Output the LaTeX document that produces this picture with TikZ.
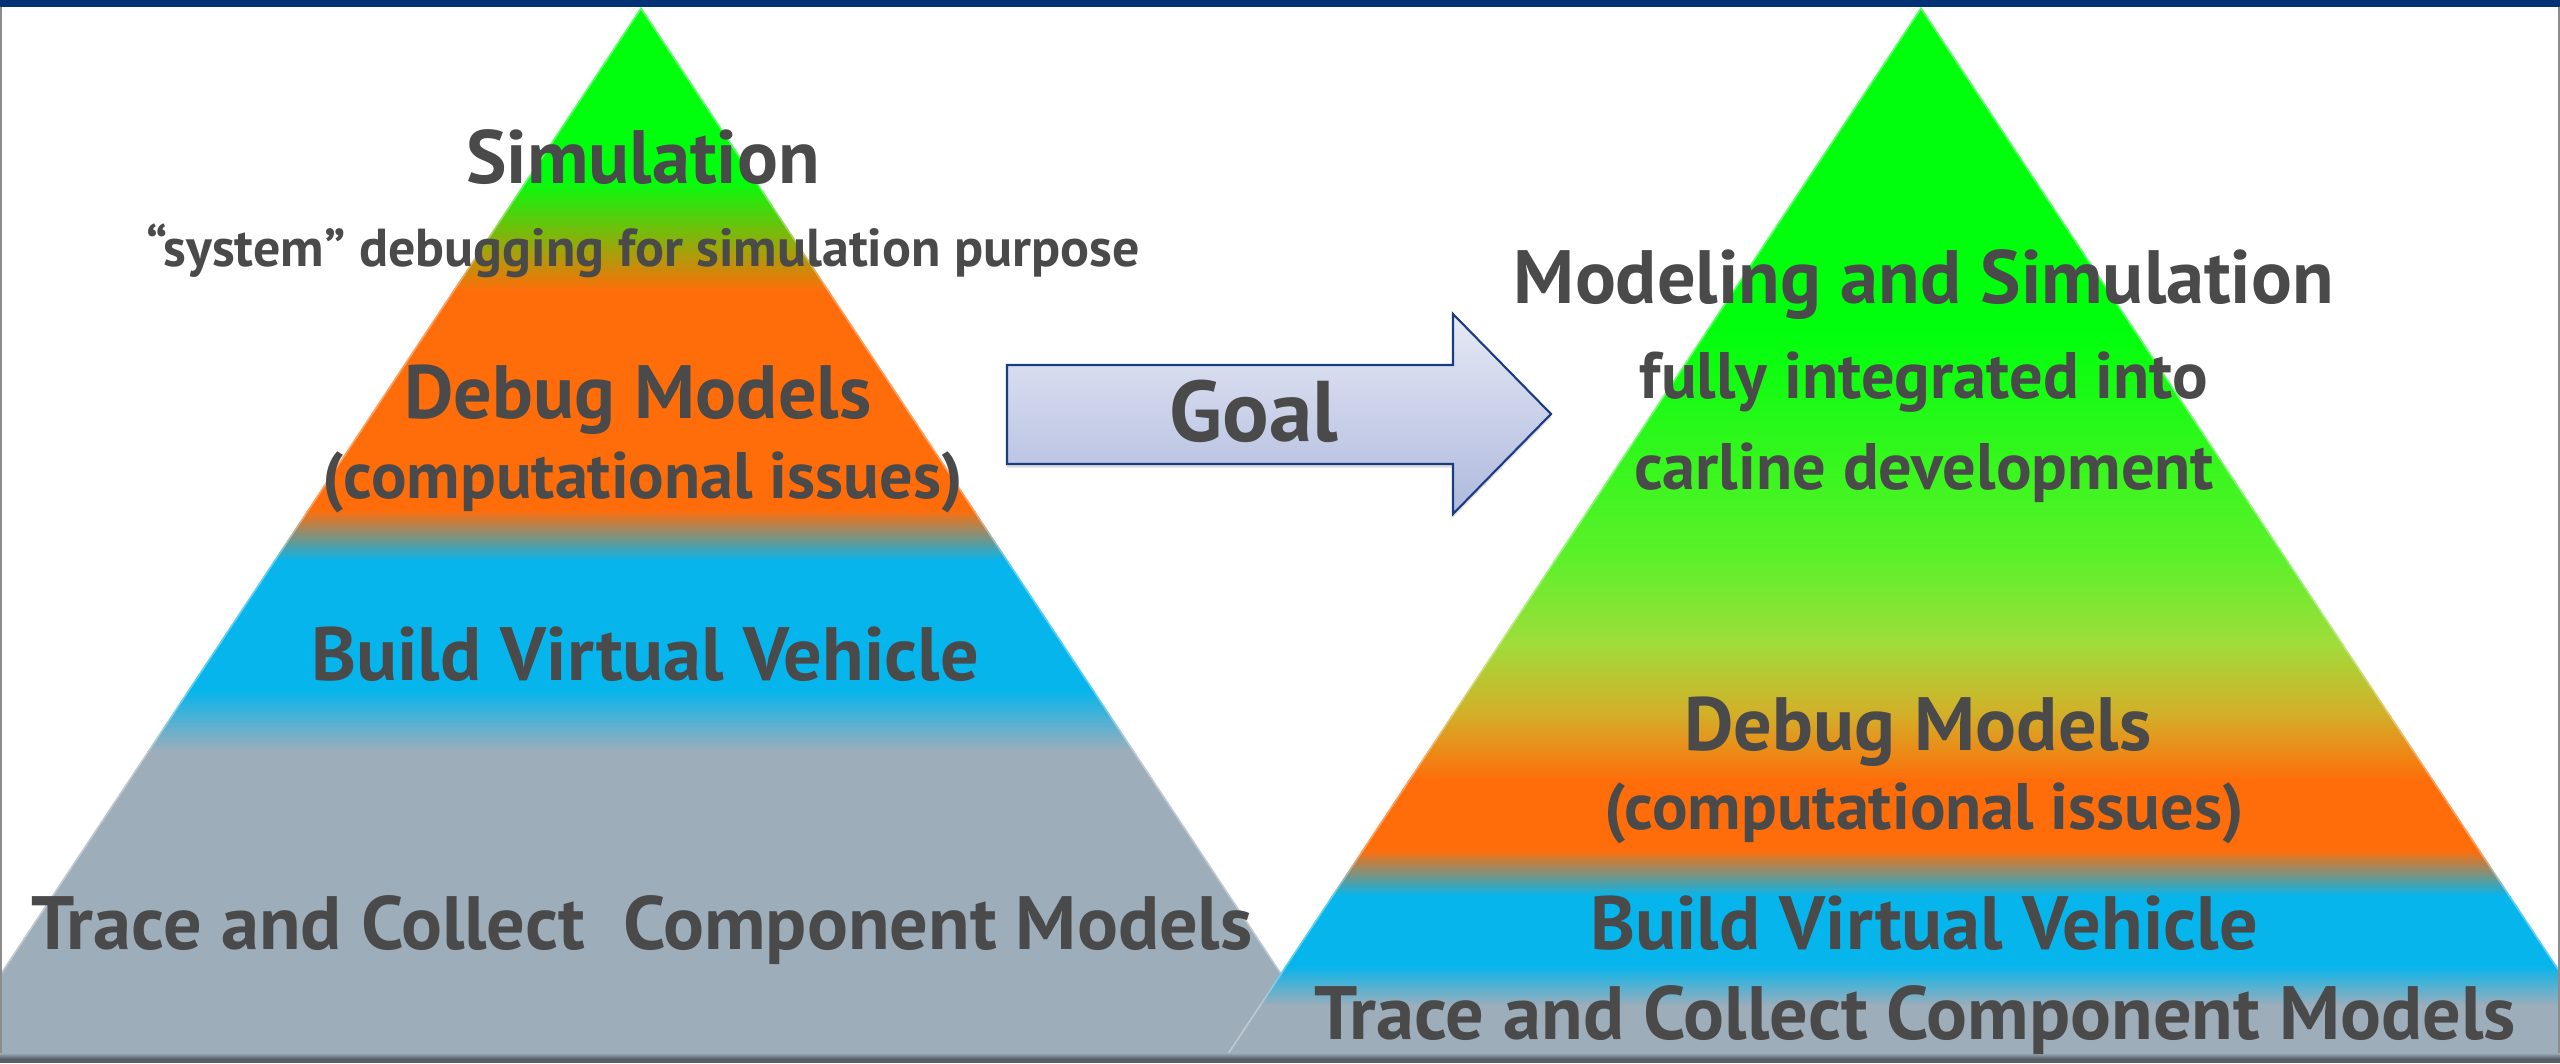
\documentclass[tikz,border=0pt]{standalone}
\usepackage{fontspec}
\setmainfont{PT Sans}[FakeStretch=1.01]
\usetikzlibrary{shadows}

\definecolor{barblue}{HTML}{003275}
\definecolor{grn}{HTML}{00FF0C}
\definecolor{lime}{HTML}{5EF02A}
\definecolor{ylgrn}{HTML}{A0DC3A}
\definecolor{olive}{HTML}{D4AE28}
\definecolor{org}{HTML}{FF6D0A}
\definecolor{blu}{HTML}{05B5EC}
\definecolor{gry}{HTML}{9DADBA}
\definecolor{txt}{HTML}{4A4A4A}
\definecolor{arrtop}{HTML}{E6E9F5}
\definecolor{arrbot}{HTML}{AEB9DD}
\definecolor{arrline}{HTML}{1A3C80}

\tikzset{
  big/.style={text=txt, inner sep=0pt, anchor=base, font=\fontsize{21.5}{24}\selectfont\bfseries},
  mid/.style={big, font=\fontsize{18.7}{22}\selectfont\bfseries},
  small/.style={big, font=\fontsize{15.2}{17}\selectfont\bfseries},
  rim/.style={white, opacity=0.35, line width=0.9pt}
}

\begin{document}
\begin{tikzpicture}[x=0.1mm,y=0.1mm]
	\useasboundingbox (0,0) rectangle (2560,1063);
	% Left pyramid
	\begin{scope}
		\clip (641,1056) -- (-57,3) -- (1339,3) -- cycle;
		\foreach \ya/\yb/\ca/\cb in {1063/883/grn/grn, 883/773/grn/org, 773/553/org/org,
			553/503/org/blu, 503/373/blu/blu, 373/313/blu/gry, 313/0/gry/gry}
			\shade[top color=\ca, bottom color=\cb] (-60,\yb-1) rectangle (1340,\ya);
		\draw[rim] (641,1056) -- (-57,3) -- (1339,3) -- cycle;
	\end{scope}
	% Right pyramid
	\begin{scope}
		\clip (1921,1056) -- (1223,3) -- (2619,3) -- cycle;
		\foreach \ya/\yb/\ca/\cb in {1063/733/grn/grn, 733/503/grn/lime, 503/420/lime/ylgrn,
			420/348/ylgrn/olive, 348/283/olive/org, 283/213/org/org, 213/168/org/blu,
			168/98/blu/blu, 98/58/blu/gry, 58/0/gry/gry}
			\shade[top color=\ca, bottom color=\cb] (1220,\yb-1) rectangle (2620,\ya);
		\draw[rim] (1921,1056) -- (1223,3) -- (2619,3) -- cycle;
	\end{scope}
	% Frame
	\fill[barblue] (0,1056) rectangle (2560,1063);
	\fill[gray!90] (0,0) rectangle (2,1056);
	\fill[gray!90] (2557.5,0) rectangle (2559.5,1056);
	\shade[top color=gry, bottom color=black!55!gry] (0,3) rectangle (2560,10);
	\fill[black!45!gry] (0,0) rectangle (2560,3);
	% Goal arrow
	\shade[top color=arrtop, bottom color=arrbot, draw=arrline, line width=0.6pt,
		drop shadow={opacity=0.25, shadow xshift=0pt, shadow yshift=-1pt}]
		(1007,698) -- (1453,698) -- (1453,749) -- (1551,649) -- (1453,549)
		-- (1453,599) -- (1007,599) -- cycle;
	\node[big, font=\fontsize{24.5}{26}\selectfont\bfseries] (goal) at (1254,622) {Goal};
	% Left texts
	\node[big] (simL) at (643,880) {Simulation};
	\node[small] (sysL) at (643,797) {“system” debugging for simulation purpose};
	\node[big] (dbgL) at (638,645) {Debug Models};
	\node[mid] (compL) at (643,565) {(computational issues)};
	\node[big] (bvvL) at (645,383) {Build Virtual Vehicle};
	\node[big] (tccL) at (642,114) {Trace and Collect~ Component Models};
	% Right texts
	\node[big] (msR) at (1924,760) {Modeling and Simulation};
	\node[mid] (fiR) at (1924,665) {fully integrated into};
	\node[mid] (cdR) at (1924,574) {carline development};
	\node[big] (dbgR) at (1918,313) {Debug Models};
	\node[mid] (compR) at (1924,234) {(computational issues)};
	\node[big] (bvvR) at (1924,114) {Build Virtual Vehicle};
	\node[big] (tccR) at (1915,24) {Trace and Collect Component Models};
\end{tikzpicture}
\end{document}
